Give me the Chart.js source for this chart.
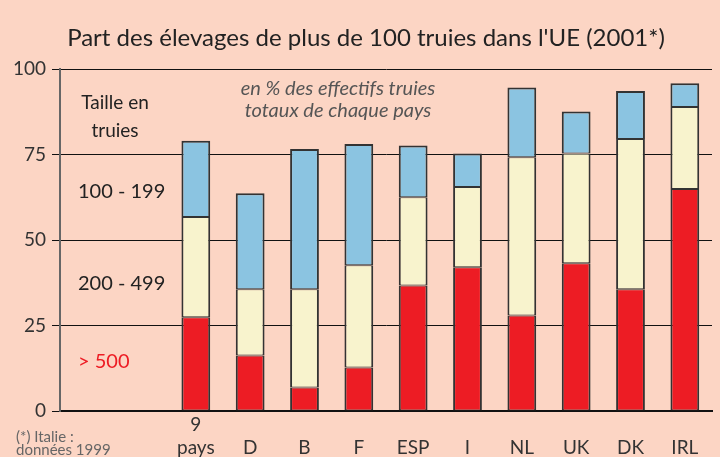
<!DOCTYPE html>
<html>
<head>
<meta charset="utf-8">
<script src="https://cdn.jsdelivr.net/npm/chart.js@4/dist/chart.umd.min.js"></script>
<style>
  html, body { margin: 0; padding: 0; background: #FCD5C4; }
  canvas { display: block; }
</style>
</head>
<body>
<canvas id="c" width="720" height="457"></canvas>
<script>
// ---- Data ----
const categories = [['9', 'pays'], 'D', 'B', 'F', 'ESP', 'I', 'NL', 'UK', 'DK', 'IRL'];
const over500   = [27.4, 16.2, 6.9, 12.7, 36.7, 42.0, 27.9, 43.2, 35.6, 64.9];
const from200   = [29.3, 19.4, 28.7, 29.9, 25.8, 23.5, 46.3, 32.1, 43.9, 24.0];
const from100   = [22.3, 28.1, 41.0, 35.5, 15.1, 9.8, 20.4, 12.3, 14.1, 6.9];
const yTicks    = [0, 25, 50, 75, 100];
const seriesNames = ['> 500', '200 - 499', '100 - 199'];
const titleText = "Part des élevages de plus de 100 truies dans l'UE (2001*)";
const noteLines = ['en % des effectifs truies', 'totaux de chaque pays'];
const legendTitle = ['Taille en', 'truies'];
const footnote = ['(*) Italie :', 'données 1999'];

// two empty slots on the left leave room for the legend text
const pad = 2;
const labels = Array(pad).fill('').concat(categories);
const padData = arr => Array(pad).fill(null).concat(arr);

const FONT = 'Lato, "Open Sans", sans-serif';
const RED = '#ED1C24', YEL = '#F8F3CD', BLU = '#8BC4E1';

const textPlugin = {
  id: 'texts',
  afterDraw(chart) {
    const ctx = chart.ctx;
    const y = chart.scales.y;
    ctx.save();
    ctx.textBaseline = 'middle';
    // title
    ctx.fillStyle = '#222';
    ctx.font = '24px ' + FONT;
    ctx.textAlign = 'center';
    ctx.fillText(titleText, 366, 38);
    // note
    ctx.fillStyle = '#555';
    ctx.font = 'italic 20px ' + FONT;
    ctx.fillText(noteLines[0], 338, y.getPixelForValue(94.2));
    ctx.fillText(noteLines[1], 338, y.getPixelForValue(87.8));
    // legend
    ctx.fillStyle = '#222';
    ctx.font = '19px ' + FONT;
    ctx.fillText(legendTitle[0], 115, y.getPixelForValue(90.2));
    ctx.fillText(legendTitle[1], 115, y.getPixelForValue(82.0));
    ctx.textAlign = 'left';
    ctx.font = '20px ' + FONT;
    ctx.fillText(seriesNames[2], 78, y.getPixelForValue(64.2));
    ctx.fillText(seriesNames[1], 78, y.getPixelForValue(37.2));
    ctx.fillStyle = RED;
    ctx.fillText(seriesNames[0], 78, y.getPixelForValue(14.5));
    // footnote
    ctx.fillStyle = '#666';
    ctx.font = '15px ' + FONT;
    ctx.fillText(footnote[0], 16, 437);
    ctx.fillText(footnote[1], 16, 450);
    ctx.restore();
  }
};

const common = { borderColor: '#333', borderSkipped: false, categoryPercentage: 1, barPercentage: 0.53 };

new Chart(document.getElementById('c'), {
  type: 'bar',
  data: {
    labels: labels,
    datasets: [
      Object.assign({ label: seriesNames[0], data: padData(over500), backgroundColor: RED,
        borderWidth: { top: 1, bottom: 1, left: 2, right: 2 } }, common),
      Object.assign({ label: seriesNames[1], data: padData(from200), backgroundColor: YEL,
        borderWidth: { top: 1, bottom: 1, left: 2, right: 2 } }, common),
      Object.assign({ label: seriesNames[2], data: padData(from100), backgroundColor: BLU,
        borderWidth: { top: 2, bottom: 1, left: 2, right: 2 } }, common)
    ]
  },
  options: {
    responsive: false,
    animation: false,
    layout: { padding: { top: 69, right: 8, left: 0, bottom: 0 } },
    plugins: { legend: { display: false }, title: { display: false }, tooltip: { enabled: false } },
    scales: {
      x: {
        stacked: true,
        grid: { display: false, drawTicks: false },
        border: { display: true, color: '#111', width: 2 },
        ticks: {
          color: '#333', font: { family: FONT, size: 19 }, padding: 14,
          crossAlign: 'far', maxRotation: 0, autoSkip: false,
          lineHeight: 0.85
        },
        afterFit(s) { s.height = 46; }
      },
      y: {
        stacked: true,
        min: 0, max: 100,
        afterBuildTicks(s) { s.ticks = yTicks.map(v => ({ value: v })); },
        grid: { color: '#111', lineWidth: 1, tickLength: 8, drawTicks: true },
        border: { display: true, color: '#666', width: 2 },
        ticks: { color: '#333', font: { family: FONT, size: 19 }, padding: 6 },
        afterFit(s) { s.width = 60; }
      }
    }
  },
  plugins: [textPlugin]
});
</script>
</body>
</html>
